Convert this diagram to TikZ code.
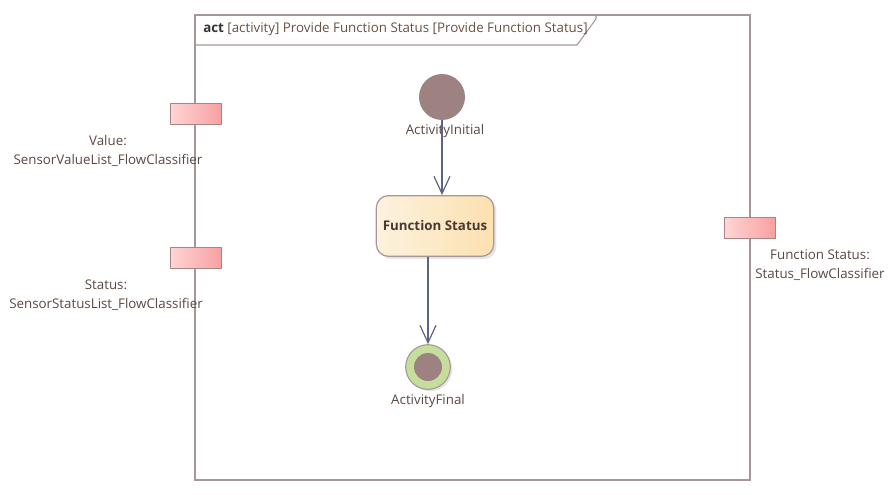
\documentclass[tikz,border=0pt]{standalone}
\usepackage{fontspec}
\setmainfont{Open Sans}
\usetikzlibrary{arrows.meta,shadows}
\definecolor{framecol}{HTML}{A69696}
\definecolor{labelcol}{HTML}{5A4840}
\definecolor{titlecol}{HTML}{6A5040}
\definecolor{flowcol}{HTML}{5C6484}
\definecolor{initcol}{HTML}{9E8282}
\definecolor{finalcol}{HTML}{C6DE9C}
\definecolor{pinleft}{HTML}{FFD4D4}
\definecolor{pinright}{HTML}{F8A0A0}
\definecolor{pinborder}{HTML}{A88484}
\definecolor{actleft}{HTML}{FDF2DE}
\definecolor{actright}{HTML}{FCE0B0}
\tikzset{
  lbl/.style={text=labelcol, align=center, inner sep=0pt},
  pinbox/.style={draw=pinborder, line width=0.8pt, left color=pinleft, right color=pinright,
    minimum width=38pt, minimum height=15.5pt, inner sep=0pt},
  flow/.style={draw=flowcol, line width=0.9pt, -{Straight Barb[length=13pt,width=12pt,line width=0.9pt]}}
}
\begin{document}
\begin{tikzpicture}[x=0.75pt, y=-0.75pt, font=\fontsize{10}{12}\selectfont]
  \useasboundingbox (0,0) rectangle (890,495);
  % frame and its title tab
  \draw[framecol, line width=1.5pt] (195,15) rectangle (750,480);
  \draw[framecol, line width=0.8pt] (195,45) -- (577,45) -- (596,19) -- (596,15);
  \node[anchor=west, inner sep=0pt, text=titlecol] (title) at (203,29)
    {\textcolor{black!80}{\bfseries act} [activity] Provide Function Status [Provide Function Status]};
  % pins
  \foreach \name/\x/\y in {value/196/114, status/196/258, result/750/228}
    \node[pinbox] (\name) at (\x,\y) {};
  \node[lbl] (valuelbl) at (108,151) {Value:\\[2pt]SensorValueList\_FlowClassifier};
  \node[lbl] (statuslbl) at (106,295) {Status:\\[2pt]SensorStatusList\_FlowClassifier};
  \node[lbl] (resultlbl) at (820,265) {Function Status:\\[2pt]Status\_FlowClassifier};
  % activity nodes
  \node[circle, fill=initcol, minimum size=34.5pt, inner sep=0pt] (init) at (442,97) {};
  \node[lbl] (initlbl) at (445,131) {ActivityInitial};
  \node[draw=framecol, line width=0.9pt, rounded corners=9pt, left color=actleft, right color=actright,
    minimum width=88pt, minimum height=45.5pt, text=labelcol!80!black, font=\fontsize{10}{12}\selectfont\bfseries,
    drop shadow={shadow xshift=2pt, shadow yshift=-2pt, fill=black!20}] (fstatus) at (435,226) {Function Status};
  \node[circle, draw=framecol, line width=0.8pt, fill=finalcol, minimum size=33.5pt, inner sep=0pt,
    drop shadow={shadow xshift=1.5pt, shadow yshift=-1.5pt, fill=black!20}] (final) at (428,367) {};
  \node[circle, fill=initcol, minimum size=21pt, inner sep=0pt] (finalin) at (final) {};
  \node[lbl] (finallbl) at (428,401) {ActivityFinal};
  % flows
  \draw[flow] (init.south) -- (init.south |- fstatus.north);
  \draw[flow] (final.north |- fstatus.south) -- (final.north);
\end{tikzpicture}
\end{document}
